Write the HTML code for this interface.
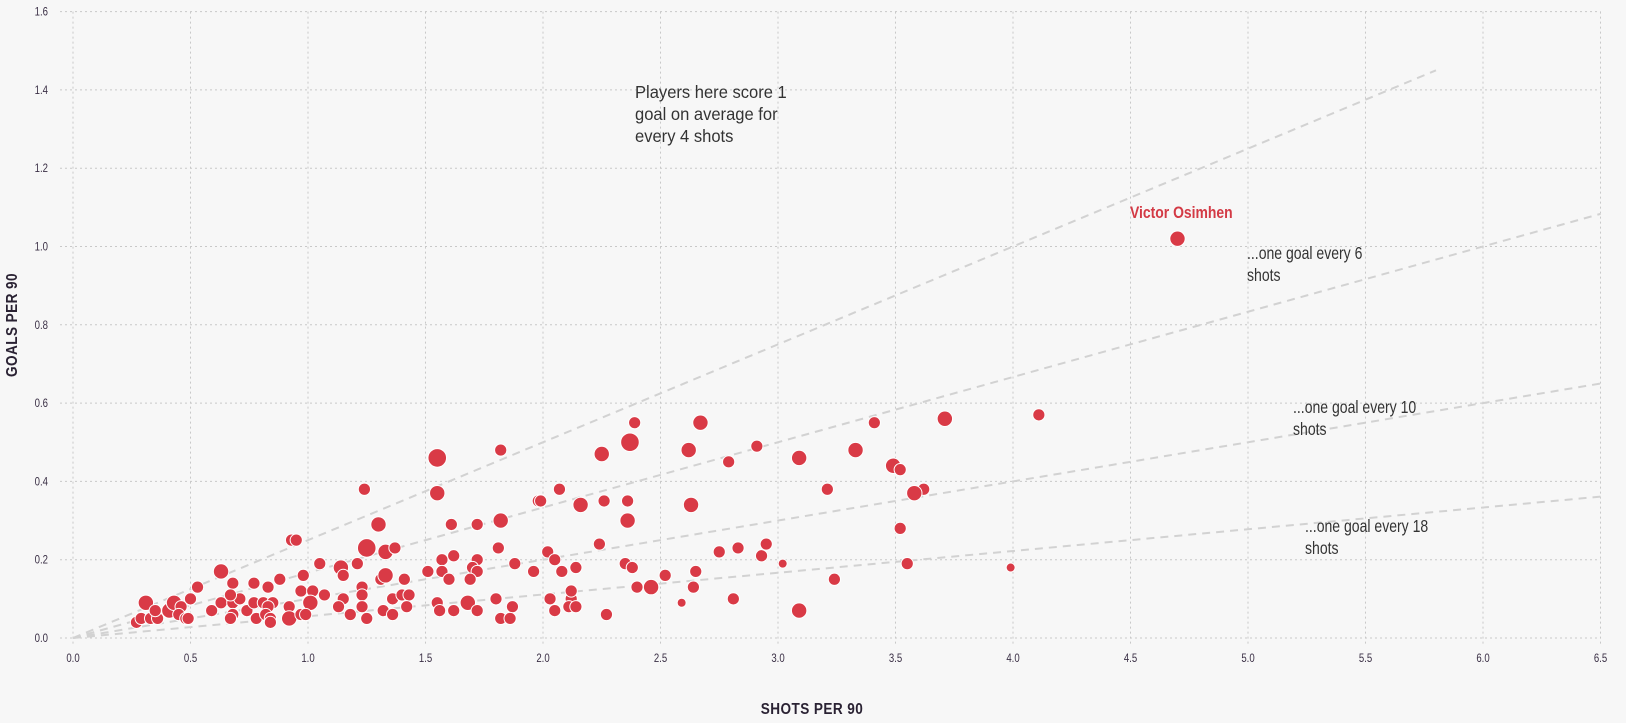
<!DOCTYPE html>
<html><head><meta charset="utf-8"><style>
html,body{margin:0;padding:0;background:#f7f7f7;}
svg{display:block;font-family:"Liberation Sans Narrow","Liberation Sans",sans-serif;}
</style></head><body>
<svg id="chart" width="1626" height="723">
<rect width="1626" height="723" fill="#f7f7f7"/>
<g id="grid"></g><g id="refs"></g><g id="pts"></g><g id="labels"></g>
<g transform="translate(1130 218) scale(0.82 1)"><text x="0" y="0" fill="#d33a45" font-weight="bold" font-size="17">Victor Osimhen</text></g>
<g transform="translate(635 0) scale(0.92 1)"><text font-size="18" fill="#333"><tspan x="0" y="98">Players here score 1</tspan><tspan x="0" y="120">goal on average for</tspan><tspan x="0" y="142">every 4 shots</tspan></text></g>
<g transform="translate(1247 0) scale(0.78 1)"><text font-size="18" fill="#333"><tspan x="0" y="259">...one goal every 6</tspan><tspan x="0" y="281">shots</tspan></text></g>
<g transform="translate(1293 0) scale(0.78 1)"><text font-size="18" fill="#333"><tspan x="0" y="413">...one goal every 10</tspan><tspan x="0" y="435">shots</tspan></text></g>
<g transform="translate(1305 0) scale(0.78 1)"><text font-size="18" fill="#333"><tspan x="0" y="532">...one goal every 18</tspan><tspan x="0" y="554">shots</tspan></text></g>
<g transform="translate(812 714) scale(0.85 1)"><text x="0" y="0" text-anchor="middle" font-weight="bold" font-size="16" fill="#2a2233" letter-spacing="0.5">SHOTS PER 90</text></g>
<g transform="translate(17 325) rotate(-90) scale(0.85 1)"><text x="0" y="0" text-anchor="middle" font-weight="bold" font-size="16" fill="#2a2233" letter-spacing="0.5">GOALS PER 90</text></g>
</svg>
<script>
const xTicks=[0,0.5,1,1.5,2,2.5,3,3.5,4,4.5,5,5.5,6,6.5];
const yTicks=[0,0.2,0.4,0.6,0.8,1.0,1.2,1.4,1.6];
const refRatios=[4,6,10,18];
const refEnds=[5.8,6.5,6.5,6.5];
const shots=[4.70,4.11,3.71,3.41,3.49,3.52,3.33,3.21,3.62,3.58,3.52,3.55,3.99,3.24,3.09,3.09,2.91,2.79,2.67,2.62,2.39,2.37,2.25,2.63,2.36,2.36,2.26,2.16,2.07,1.98,1.82,1.55,1.55,1.82,1.81,1.72,1.61,2.24,2.95,2.83,2.75,2.93,3.02,
1.24,1.99,1.30,0.93,0.95,1.25,1.33,1.37,2.02,2.05,1.05,1.14,1.15,1.21,1.57,1.62,1.72,1.70,1.72,1.51,1.57,1.60,1.69,1.88,1.96,2.03,2.05,
0.63,0.53,0.68,0.77,0.83,0.88,0.98,0.97,1.02,1.01,1.07,1.15,1.13,1.18,1.23,1.23,1.23,1.25,1.31,1.33,1.36,1.40,1.43,1.42,1.32,1.36,1.41,1.55,1.56,1.62,1.68,1.72,1.80,1.87,1.82,1.86,
0.31,0.27,0.29,0.33,0.36,0.35,0.41,0.43,0.46,0.45,0.48,0.49,0.50,0.59,0.67,0.63,0.68,0.71,0.67,0.68,0.67,0.74,0.77,0.81,0.85,0.78,0.83,0.82,0.84,0.84,0.92,0.92,0.97,0.99,
2.35,2.38,2.40,2.46,2.52,2.65,2.64,2.59,2.81,2.27,2.12,2.11,2.14,2.12,2.14,2.08];
const goals=[1.02,0.57,0.56,0.55,0.44,0.43,0.48,0.38,0.38,0.37,0.28,0.19,0.18,0.15,0.07,0.46,0.49,0.45,0.55,0.48,0.55,0.50,0.47,0.34,0.35,0.30,0.35,0.34,0.38,0.35,0.48,0.46,0.37,0.30,0.23,0.29,0.29,0.24,0.24,0.23,0.22,0.21,0.19,
0.38,0.35,0.29,0.25,0.25,0.23,0.22,0.23,0.22,0.20,0.19,0.18,0.16,0.19,0.20,0.21,0.20,0.18,0.17,0.17,0.17,0.15,0.15,0.19,0.17,0.10,0.07,
0.17,0.13,0.14,0.14,0.13,0.15,0.16,0.12,0.12,0.09,0.11,0.10,0.08,0.06,0.13,0.11,0.08,0.05,0.15,0.16,0.10,0.11,0.11,0.08,0.07,0.06,0.15,0.09,0.07,0.07,0.09,0.07,0.10,0.08,0.05,0.05,
0.09,0.04,0.05,0.05,0.05,0.07,0.07,0.09,0.08,0.06,0.05,0.05,0.10,0.07,0.10,0.09,0.09,0.10,0.11,0.06,0.05,0.07,0.09,0.09,0.09,0.05,0.08,0.06,0.05,0.04,0.08,0.05,0.06,0.06,
0.19,0.18,0.13,0.13,0.16,0.17,0.13,0.09,0.10,0.06,0.10,0.08,0.08,0.12,0.18,0.17];
const sizes=[2,1,2,1,2,1,2,1,1,2,1,1,0,1,2,2,1,1,2,2,1,3,2,2,1,2,1,2,1,1,1,3,2,2,1,1,1,1,1,1,1,1,0,
1,1,2,1,1,3,2,1,1,1,1,2,1,1,1,1,1,1,1,1,1,1,1,1,1,1,1,
2,1,1,1,1,1,1,1,1,2,1,1,1,1,1,1,1,1,1,2,1,1,1,1,1,1,1,1,1,1,2,1,1,1,1,1,
2,1,1,1,1,1,2,2,1,1,1,1,1,1,1,1,1,1,1,1,1,1,1,1,1,1,1,1,1,1,1,2,1,1,
1,1,1,2,1,1,1,0,1,1,1,1,1,1,1,1];
const X=v=>73+v*235, Y=v=>638-v*391.5, R=s=>4.5+s*1.6;
const NS="http://www.w3.org/2000/svg";
function mk(tag,attrs,parent){const e=document.createElementNS(NS,tag);for(const k in attrs)e.setAttribute(k,attrs[k]);parent.appendChild(e);return e;}
const grid=document.getElementById('grid'),labels=document.getElementById('labels');
xTicks.forEach(t=>{
 const l=mk('line',{x1:X(t),x2:X(t),y1:Y(1.6),y2:Y(0)+8,stroke:'#c8c8c8','stroke-dasharray':'2,3'},grid);
 
 
 const tx=mk('text',{x:0,y:0,'text-anchor':'middle','font-size':12,fill:'#3a2f45',transform:'translate('+X(t)+' 662) scale(0.8 1)'},labels);
 tx.textContent=t.toFixed(1);
 
 
});
yTicks.forEach(t=>{
 const l=mk('line',{x1:60,x2:X(6.5),y1:Y(t),y2:Y(t),stroke:'#c8c8c8','stroke-dasharray':'2,3'},grid);
 
 
 const tx=mk('text',{x:0,y:0,'text-anchor':'end','font-size':12,fill:'#3a2f45',transform:'translate(48 '+(Y(t)+4)+') scale(0.8 1)'},labels);
 tx.textContent=t.toFixed(1);
 
 
});
const refs=document.getElementById('refs');
refRatios.forEach((r,i)=>{
 const l=mk('line',{x1:X(0),y1:Y(0),x2:X(refEnds[i]),y2:Y(refEnds[i]/r),stroke:'#d2d2d2','stroke-width':2,'stroke-dasharray':'8,6'},refs);
 
 
});
const pts=document.getElementById('pts');
shots.forEach((s,i)=>{
 const c=mk('circle',{cx:X(s),cy:Y(goals[i]),r:R(sizes[i]),fill:'#d93a46',stroke:'#ffffff','stroke-width':1},pts);
 
 
});
</script>
</body></html>
